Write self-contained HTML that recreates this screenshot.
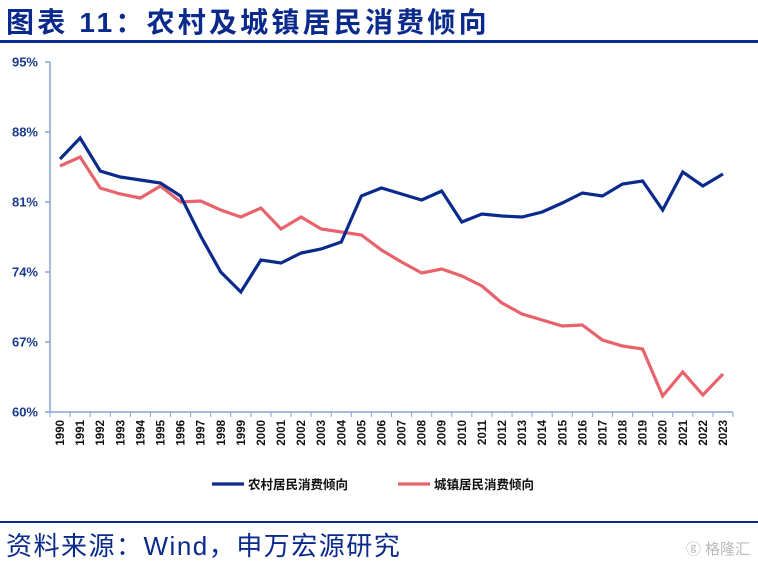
<!DOCTYPE html>
<html><head><meta charset="utf-8"><style>
body{margin:0;background:#fff;width:758px;height:564px;overflow:hidden;position:relative;font-family:"Liberation Sans","Noto Sans CJK SC",sans-serif}
#title{position:absolute;left:6px;top:1px;font-size:28px;font-weight:bold;color:#0a2a8c;letter-spacing:3.2px;white-space:nowrap}
#src{position:absolute;left:6px;top:526px;font-size:26px;color:#0a2a8c;letter-spacing:1.5px;white-space:nowrap}
#wm{position:absolute;right:8px;top:538px;font-size:15px;color:#bbb}
</style></head><body>
<div id="title">图表 11：农村及城镇居民消费倾向</div>
<div style="position:absolute;left:0;top:40px;width:758px;height:3px;background:#0a2a8c"></div>
<svg id="chart" width="758" height="564" style="position:absolute;left:0;top:0"></svg>
<div style="position:absolute;left:0;top:521px;width:758px;height:2px;background:#0a2a8c"></div>
<div id="src">资料来源：Wind，申万宏源研究</div>
<div id="wm">ⓖ 格隆汇</div>
<script>
const years=[1990,1991,1992,1993,1994,1995,1996,1997,1998,1999,2000,2001,2002,2003,2004,2005,2006,2007,2008,2009,2010,2011,2012,2013,2014,2015,2016,2017,2018,2019,2020,2021,2022,2023];
const rural=[85.3,87.4,84.1,83.5,83.2,82.9,81.6,77.6,74.0,72.0,75.2,74.9,75.9,76.3,77.0,81.6,82.4,81.8,81.2,82.1,79.0,79.8,79.6,79.5,80.0,80.9,81.9,81.6,82.8,83.1,80.2,84.0,82.6,83.8];
const urban=[84.6,85.5,82.4,81.8,81.4,82.6,81.0,81.1,80.2,79.5,80.4,78.3,79.5,78.3,78.0,77.7,76.2,75.0,73.9,74.3,73.6,72.6,70.9,69.8,69.2,68.6,68.7,67.2,66.6,66.3,61.6,64.0,61.7,63.8];
const yTicks=[60,67,74,81,88,95];
const seriesNames=["农村居民消费倾向","城镇居民消费倾向"];
const NS="http://www.w3.org/2000/svg";
const svg=document.getElementById('chart');
const X0=50,X1=733,Y0=412,Y1=62;
const band=(X1-X0)/years.length;
function xs(i){return X0+(i+0.5)*band;}
function ys(v){return Y0-(v-60)/(95-60)*(Y0-Y1);}
function mk(t,a){const e=document.createElementNS(NS,t);for(const k in a)e.setAttribute(k,a[k]);svg.appendChild(e);return e;}
const axC="#8aa3d6",lblC="#1a3a8c";
let e=mk('line',{x1:X0,y1:Y1,x2:X0,y2:Y0,stroke:axC,'stroke-width':1.5});


e=mk('line',{x1:X0,y1:Y0,x2:X1,y2:Y0,stroke:axC,'stroke-width':1.5});


yTicks.forEach(v=>{
 const y=ys(v);
 let t=mk('line',{x1:X0-5,y1:y,x2:X0,y2:y,stroke:axC,'stroke-width':1.5});
 
 
 let l=mk('text',{x:X0-12,y:y+4.5,'text-anchor':'end','font-size':13,'font-weight':'bold',fill:lblC});
 l.textContent=v+'%';
 
 
});
for(let i=0;i<=years.length;i++){
 const x=X0+i*band;
 let t=mk('line',{x1:x,y1:Y0,x2:x,y2:Y0+5,stroke:axC,'stroke-width':1});
 
 
}
years.forEach((yr,i)=>{
 const x=xs(i);
 let l=mk('text',{x:0,y:0,'text-anchor':'end','font-size':11.5,'font-weight':'bold',fill:'#111',transform:`translate(${x+4},${Y0+8}) rotate(-90)`});
 l.textContent=yr;
 
 
});
function line(data,color,name){
 const p=mk('polyline',{points:data.map((v,i)=>xs(i)+','+ys(v)).join(' '),fill:'none',stroke:color,'stroke-width':3.2,'stroke-linejoin':'miter'});
 
 
}
line(urban,'#e8636b','urban-line');
line(rural,'#0a2a8c','rural-line');
[[212,'#0a2a8c',0],[398,'#e8636b',1]].forEach(([x,c,k])=>{
 let l=mk('line',{x1:x,y1:484,x2:x+32,y2:484,stroke:c,'stroke-width':3.2});
 
 
 let t=mk('text',{x:x+36,y:489,'font-size':12.5,'font-weight':'bold',fill:'#111'});
 t.textContent=seriesNames[k];
 
 
});
</script>
</body></html>
